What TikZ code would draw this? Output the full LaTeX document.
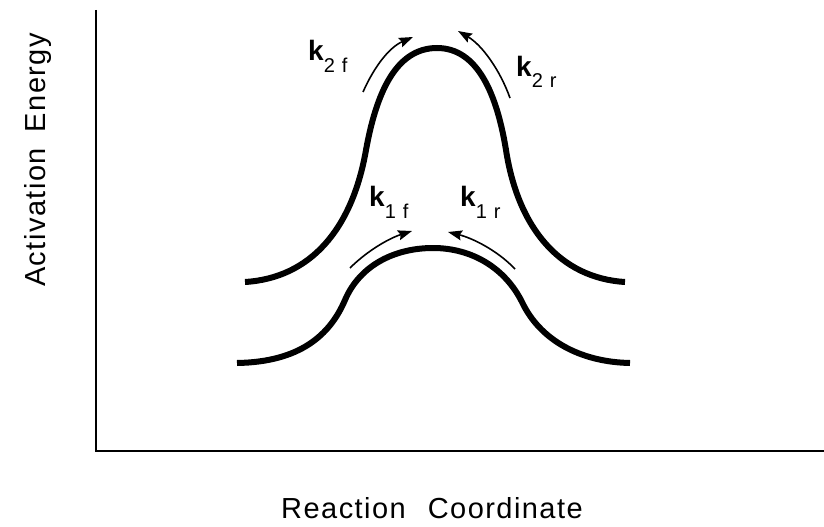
\documentclass[tikz,border=0pt]{standalone}
\usepackage{fontspec}
\setmainfont{Liberation Sans}
\usetikzlibrary{arrows.meta}
\newcommand\krate[2]{k\raisebox{-12pt}{\fontsize{20}{20}\selectfont\mdseries #1\hspace{7pt}#2}}
\begin{document}
\begin{tikzpicture}[x=1pt,y=-1pt,
  curve/.style={line width=6pt},
  axis/.style={line width=2pt},
  rate/.style={line width=1.6pt,-{Stealth[length=14pt,width=10pt,inset=2pt]}},
  klabel/.style={anchor=base west,inner sep=0pt,font=\fontsize{28}{28}\selectfont\bfseries},
  axlabel/.style={inner sep=0pt,anchor=base,font=\fontsize{29}{29}\selectfont\addfontfeature{LetterSpace=5}}]
\useasboundingbox (0,0) rectangle (824,527);
\fill[white] (0,0) rectangle (824,527);
% axes
\coordinate (top) at (96,10);
\coordinate (O) at (96,451);
\coordinate (right) at (824,451);
\draw[axis] (top) -- (O) -- (right);
% axis labels
\node[axlabel] (xlab) at (432,518) {Reaction\hspace{22pt}Coordinate};
\node[axlabel,rotate=90] (ylab) at (45,160) {Activation\hspace{16pt}Energy};
% upper barrier
\draw[curve] (245,282) .. controls (310,278) and (352,230) .. (366,150)
  .. controls (376,95) and (395,48) .. (437,48)
  .. controls (478,48) and (497,95) .. (506,150)
  .. controls (518,228) and (560,278) .. (625,282);
% lower barrier
\draw[curve] (237,363) .. controls (300,362) and (330,335) .. (345,300)
  .. controls (360,265) and (395,248) .. (433,248)
  .. controls (472,248) and (505,268) .. (522,302)
  .. controls (540,340) and (580,362) .. (630,363);
% rate arrows
\coordinate (a2fs) at (363,92);  \coordinate (a2fe) at (413,37);
\coordinate (a2rs) at (510,98);  \coordinate (a2re) at (458,31);
\coordinate (a1fs) at (350,268); \coordinate (a1fe) at (412,231);
\coordinate (a1rs) at (515,269); \coordinate (a1re) at (448,232);
\draw[rate] (a2fs) .. controls (375,65) and (390,47) .. (a2fe);
\draw[rate] (a2rs) .. controls (500,70) and (482,45) .. (a2re);
\draw[rate] (a1fs) .. controls (368,250) and (390,238) .. (a1fe);
\draw[rate] (a1rs) .. controls (497,250) and (472,238) .. (a1re);
% labels
\node[klabel] (k2f) at (308,60) {\krate{2}{f}};
\node[klabel] (k2r) at (516,76) {\krate{2}{r}};
\node[klabel] (k1f) at (369,206) {\krate{1}{f}};
\node[klabel] (k1r) at (460,206) {\krate{1}{r}};
\end{tikzpicture}
\end{document}
